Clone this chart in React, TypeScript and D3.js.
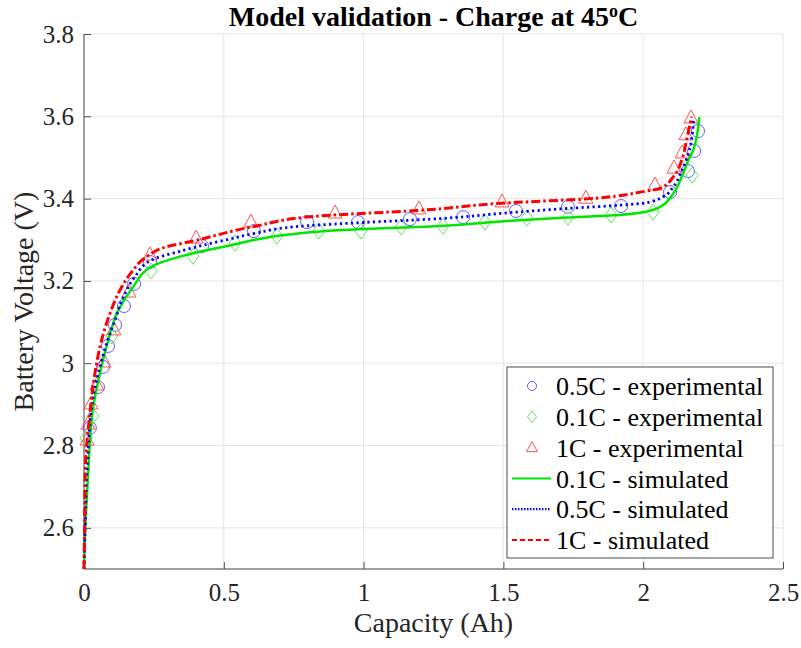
import { useRef, useEffect } from "react";
import * as d3 from "d3";

// experimental points
const exp05Cap = [0.021, 0.05, 0.068, 0.086, 0.111, 0.143, 0.179, 0.236, 0.422, 0.608, 0.798, 0.98, 1.166, 1.356, 1.545, 1.731, 1.921, 2.096, 2.16, 2.182, 2.196];
const exp05Volt = [2.843, 2.942, 2.991, 3.042, 3.093, 3.139, 3.193, 3.246, 3.285, 3.321, 3.343, 3.343, 3.35, 3.355, 3.37, 3.38, 3.382, 3.416, 3.467, 3.516, 3.564];

const exp01Cap = [0.007, 0.032, 0.1, 0.24, 0.39, 0.54, 0.69, 0.84, 0.991, 1.134, 1.284, 1.434, 1.584, 1.731, 1.885, 2.035, 2.175];
const exp01Volt = [2.818, 2.872, 3.066, 3.224, 3.26, 3.292, 3.309, 3.321, 3.321, 3.331, 3.333, 3.343, 3.353, 3.355, 3.36, 3.367, 3.457];

const exp1Cap = [0.011, 0.014, 0.025, 0.046, 0.072, 0.107, 0.161, 0.236, 0.401, 0.597, 0.898, 1.198, 1.495, 1.795, 2.042, 2.11, 2.139, 2.153, 2.171];
const exp1Volt = [2.813, 2.852, 2.901, 2.947, 3.003, 3.081, 3.173, 3.263, 3.304, 3.343, 3.365, 3.375, 3.392, 3.401, 3.433, 3.474, 3.511, 3.555, 3.596];

// simulated curves
const sim01Cap = [0, 0.002, 0.005, 0.015, 0.033, 0.057, 0.087, 0.123, 0.176, 0.242, 0.343, 0.5, 0.844, 0.999, 1.237, 1.524, 1.726, 1.881, 2.0, 2.06, 2.108, 2.138, 2.162, 2.179, 2.201];
const sim01Volt = [2.5, 2.55, 2.6, 2.732, 2.894, 2.975, 3.056, 3.129, 3.186, 3.235, 3.259, 3.283, 3.32, 3.326, 3.332, 3.346, 3.354, 3.359, 3.367, 3.38, 3.413, 3.453, 3.494, 3.518, 3.598];

const sim05Cap = [0, 0.002, 0.004, 0.011, 0.033, 0.057, 0.081, 0.111, 0.141, 0.182, 0.242, 0.343, 0.427, 0.51, 0.606, 0.797, 0.999, 1.237, 1.524, 1.726, 1.917, 2.012, 2.072, 2.108, 2.138, 2.162, 2.18];
const sim05Volt = [2.5, 2.55, 2.6, 2.74, 2.919, 2.991, 3.048, 3.105, 3.162, 3.21, 3.251, 3.272, 3.287, 3.3, 3.315, 3.334, 3.342, 3.35, 3.366, 3.376, 3.384, 3.39, 3.405, 3.429, 3.469, 3.51, 3.591];

const sim1Cap = [0, 0.001, 0.002, 0.004, 0.021, 0.039, 0.063, 0.093, 0.129, 0.171, 0.224, 0.296, 0.391, 0.606, 0.844, 1.19, 1.524, 1.786, 2.0, 2.06, 2.108, 2.138, 2.155, 2.173];
const sim1Volt = [2.5, 2.55, 2.6, 2.733, 2.878, 2.975, 3.056, 3.121, 3.178, 3.222, 3.259, 3.283, 3.297, 3.332, 3.358, 3.371, 3.39, 3.399, 3.417, 3.425, 3.453, 3.494, 3.542, 3.599];

const xTicks = [0, 0.5, 1, 1.5, 2, 2.5];
const yTicks = [2.6, 2.8, 3, 3.2, 3.4, 3.6, 3.8];
const legendLabels = [
  "0.5C - experimental",
  "0.1C - experimental",
  "1C - experimental",
  "0.1C - simulated",
  "0.5C - simulated",
  "1C - simulated",
];

const width = 801;
const height = 648;
const margin = { top: 34, right: 18, bottom: 79, left: 84 };
const font = "'Liberation Serif', 'Times New Roman', serif";

const zip = (a: number[], b: number[]) => a.map((v, i) => [v, b[i]] as [number, number]);

const App = () => {
  const svgRef = useRef<SVGSVGElement>(null);

  useEffect(() => {
    const svg = d3.select(svgRef.current);
    svg.selectAll("*").remove();

    const x = d3.scaleLinear().domain([0, 2.5]).range([margin.left, width - margin.right]);
    const y = d3.scaleLinear().domain([2.5, 3.8]).range([height - margin.bottom, margin.top]);

    // grid
    const grid = svg.append("g").attr("stroke", "#e6e6e6").attr("stroke-width", 1);
    xTicks.forEach((t) =>
      grid.append("line").attr("x1", x(t)).attr("x2", x(t)).attr("y1", y(2.5)).attr("y2", y(3.8))
    );
    [2.5, ...yTicks].forEach((t) =>
      grid.append("line").attr("x1", x(0)).attr("x2", x(2.5)).attr("y1", y(t)).attr("y2", y(t))
    );

    // axes
    const axisColor = "#4d4d4d";
    const textColor = "#262626";
    const xAxis = svg
      .append("g")
      .attr("transform", `translate(0,${y(2.5)})`)
      .call(d3.axisBottom(x).tickValues(xTicks).tickSizeInner(-7).tickSizeOuter(0).tickPadding(14).tickFormat((d) => `${d}`));
    const yAxis = svg
      .append("g")
      .attr("transform", `translate(${x(0)},0)`)
      .call(d3.axisLeft(y).tickValues(yTicks).tickSizeInner(-7).tickSizeOuter(0).tickPadding(10).tickFormat((d) => `${d}`));
    [xAxis, yAxis].forEach((g) => {
      g.select(".domain").attr("stroke", axisColor).attr("stroke-width", 1);
      g.selectAll(".tick line").attr("stroke", axisColor);
      g.selectAll(".tick text")
        .attr("fill", textColor)
        .attr("font-family", font)
        .attr("font-size", 25);
    });
    yAxis.select(".domain").attr("d", `M0,${y(2.5)}V${y(3.8)}`);
    xAxis.select(".domain").attr("d", `M${x(0)},0H${x(2.5)}`);

    // experimental markers
    const markers = svg.append("g").attr("fill", "none").attr("stroke-width", 1);
    zip(exp05Cap, exp05Volt).forEach(([c, v]) =>
      markers.append("circle").attr("cx", x(c)).attr("cy", y(v)).attr("r", 6.5).attr("stroke", "#5c5cff")
    );
    zip(exp01Cap, exp01Volt).forEach(([c, v]) =>
      markers
        .append("path")
        .attr("d", "M0,-8L6,0L0,8L-6,0Z")
        .attr("transform", `translate(${x(c)},${y(v)})`)
        .attr("stroke", "#5ee65e")
    );
    zip(exp1Cap, exp1Volt).forEach(([c, v]) =>
      markers
        .append("path")
        .attr("d", "M0,-8L7,5L-7,5Z")
        .attr("transform", `translate(${x(c)},${y(v)})`)
        .attr("stroke", "#ff5252")
    );

    // simulated lines
    const line = d3
      .line<[number, number]>()
      .x((d) => x(d[0]))
      .y((d) => y(d[1]))
      .curve(d3.curveMonotoneY);
    const sims = [
      { data: zip(sim01Cap, sim01Volt), color: "#00e600", dash: null, w: 2.5 },
      { data: zip(sim05Cap, sim05Volt), color: "#0000ff", dash: "2.2,3.3", w: 2.8 },
      { data: zip(sim1Cap, sim1Volt), color: "#ff0000", dash: "9,3,2.5,3", w: 3 },
    ];
    sims.forEach((s) => {
      svg
        .append("path")
        .datum(s.data)
        .attr("d", line)
        .attr("fill", "none")
        .attr("stroke", s.color)
        .attr("stroke-width", s.w)
        .attr("stroke-dasharray", s.dash);
    });

    // legend
    const lg = svg.append("g");
    lg.append("rect")
      .attr("x", 507)
      .attr("y", 367)
      .attr("width", 266)
      .attr("height", 191)
      .attr("fill", "#fff")
      .attr("stroke", "#4d4d4d")
      .attr("stroke-width", 1);
    const rowY = (i: number) => 386 + i * 30.8;
    legendLabels.forEach((label, i) => {
      lg.append("text")
        .attr("x", 556)
        .attr("y", rowY(i))
        .attr("dy", "0.35em")
        .attr("font-family", font)
        .attr("font-size", 26)
        .attr("fill", "#000")
        .text(label);
    });
    const mx = 532;
    lg.append("circle").attr("cx", mx).attr("cy", rowY(0)).attr("r", 4.5).attr("fill", "none").attr("stroke", "#5c5cff");
    lg.append("path").attr("d", "M0,-6L4.5,0L0,6L-4.5,0Z").attr("transform", `translate(${mx},${rowY(1)})`).attr("fill", "none").attr("stroke", "#5ee65e");
    lg.append("path").attr("d", "M0,-6L5.5,4L-5.5,4Z").attr("transform", `translate(${mx},${rowY(2)})`).attr("fill", "none").attr("stroke", "#ff5252");
    sims.forEach((s, i) => {
      lg.append("line")
        .attr("x1", 512)
        .attr("x2", 551)
        .attr("y1", rowY(3 + i))
        .attr("y2", rowY(3 + i))
        .attr("stroke", s.color)
        .attr("stroke-width", i === 0 ? 2 : 2.2)
        .attr("stroke-dasharray", i === 0 ? null : i === 1 ? "1.5,1.5" : "5,3");
    });

    // labels
    svg
      .append("text")
      .attr("x", x(1.25))
      .attr("y", 632)
      .attr("text-anchor", "middle")
      .attr("font-family", font)
      .attr("font-size", 28)
      .attr("fill", textColor)
      .text("Capacity (Ah)");
    svg
      .append("text")
      .attr("transform", `translate(33,${y(3.15)}) rotate(-90)`)
      .attr("text-anchor", "middle")
      .attr("font-family", font)
      .attr("font-size", 28)
      .attr("fill", textColor)
      .text("Battery Voltage (V)");
    const title = svg
      .append("text")
      .attr("x", x(1.25))
      .attr("y", 26)
      .attr("text-anchor", "middle")
      .attr("font-family", font)
      .attr("font-size", 28)
      .attr("font-weight", "bold")
      .attr("fill", "#000");
    title.append("tspan").text("Model validation - Charge at 45");
    title.append("tspan").attr("font-size", 18).attr("dy", -9).text("o");
    title.append("tspan").attr("dy", 9).text("C");
  }, []);

  return (
    <svg
      ref={svgRef}
      width={width}
      height={height}
      style={{ position: "absolute", left: 0, top: 0, background: "#fff" }}
    ></svg>
  );
};

export default App;
